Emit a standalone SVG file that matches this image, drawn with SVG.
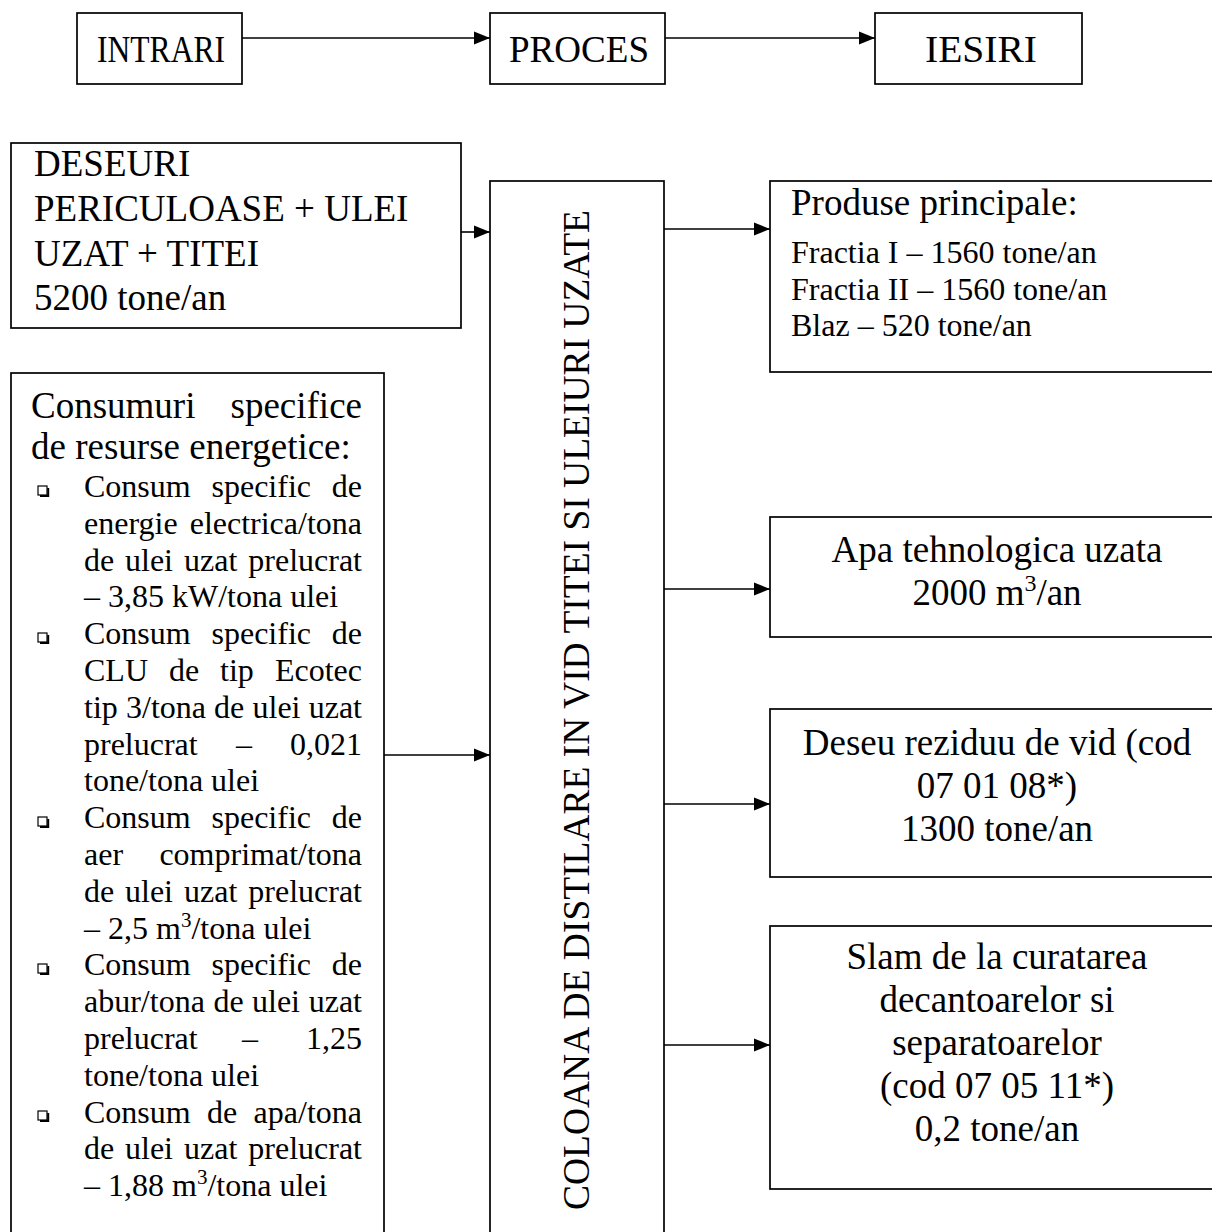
<svg xmlns="http://www.w3.org/2000/svg" width="1212" height="1232" viewBox="0 0 1212 1232">
<style>
  text { font-family: "Liberation Serif", "Times New Roman", serif; fill: #000; }
  .box { fill: #fff; stroke: #000; stroke-width: 1.7; }
  .big { font-size: 37px; }
  .sm { font-size: 32px; }
  .mid { text-anchor: middle; }
  .end { text-anchor: end; }
  .conn { stroke: #000; stroke-width: 1.6; fill: none; marker-end: url(#arr); }
</style>
<defs>
  <marker id="arr" markerUnits="userSpaceOnUse" markerWidth="17" markerHeight="14" refX="16" refY="7" orient="auto">
    <path d="M0,0.5 L16,7 L0,13.5 z" fill="#000"/>
  </marker>
  <g id="bullet">
    <rect x="0" y="0" width="9" height="9" fill="#fff" stroke="#000" stroke-width="1.2"/>
    <path d="M2,10 H10.2 V2" fill="none" stroke="#000" stroke-width="2"/>
  </g>
</defs>

<g id="connectors">
  <line class="conn" x1="239" y1="38" x2="490" y2="38"/>
  <line class="conn" x1="662" y1="38" x2="875" y2="38"/>
  <line class="conn" x1="461" y1="232" x2="490" y2="232"/>
  <line class="conn" x1="384" y1="755" x2="490" y2="755"/>
  <line class="conn" x1="664" y1="229" x2="770" y2="229"/>
  <line class="conn" x1="664" y1="589" x2="770" y2="589"/>
  <line class="conn" x1="664" y1="804" x2="770" y2="804"/>
  <line class="conn" x1="664" y1="1045" x2="770" y2="1045"/>
</g>

<g id="intrari">
  <rect class="box" x="77" y="13" width="165" height="71"/>
  <text class="big mid" x="161" y="62" textLength="128" lengthAdjust="spacingAndGlyphs">INTRARI</text>
</g>
<g id="proces">
  <rect class="box" x="490" y="13" width="175" height="71"/>
  <text class="big mid" x="579" y="62" textLength="140" lengthAdjust="spacingAndGlyphs">PROCES</text>
</g>
<g id="iesiri">
  <rect class="box" x="875" y="13" width="207" height="71"/>
  <text class="big mid" x="981" y="62" textLength="112" lengthAdjust="spacingAndGlyphs">IESIRI</text>
</g>

<g id="deseuri">
  <rect class="box" x="11" y="143" width="450" height="185"/>
  <text class="big" x="34" y="176">DESEURI</text>
  <text class="big" x="34" y="221">PERICULOASE + ULEI</text>
  <text class="big" x="34" y="266">UZAT + TITEI</text>
  <text class="big" x="34" y="310">5200 tone/an</text>
</g>

<g id="consumuri">
  <rect class="box" x="11" y="373" width="373" height="880"/>
  <text class="big" x="31" y="418">Consumuri</text>
  <text class="big end" x="362" y="418">specifice</text>
  <text class="big" x="31" y="459">de resurse energetice:</text>

  <use href="#bullet" x="38" y="486"/>
  <text class="sm" y="497"><tspan x="84">Consum</tspan><tspan x="211.5">specific</tspan><tspan x="362" text-anchor="end">de</tspan></text>
  <text class="sm" y="533.8"><tspan x="84">energie</tspan><tspan x="362" text-anchor="end">electrica/tona</tspan></text>
  <text class="sm" y="570.6"><tspan x="84">de</tspan><tspan x="125">ulei</tspan><tspan x="184">uzat</tspan><tspan x="362" text-anchor="end">prelucrat</tspan></text>
  <text class="sm" x="84" y="607.4">– 3,85 kW/tona ulei</text>

  <use href="#bullet" x="38" y="633"/>
  <text class="sm" y="644.2"><tspan x="84">Consum</tspan><tspan x="211.5">specific</tspan><tspan x="362" text-anchor="end">de</tspan></text>
  <text class="sm" y="681"><tspan x="84">CLU</tspan><tspan x="169">de</tspan><tspan x="220">tip</tspan><tspan x="362" text-anchor="end">Ecotec</tspan></text>
  <text class="sm" y="717.8"><tspan x="84">tip</tspan><tspan x="126">3/tona</tspan><tspan x="214">de</tspan><tspan x="252.5">ulei</tspan><tspan x="362" text-anchor="end">uzat</tspan></text>
  <text class="sm" y="754.6"><tspan x="84">prelucrat</tspan><tspan x="236">–</tspan><tspan x="362" text-anchor="end">0,021</tspan></text>
  <text class="sm" x="84" y="791.4">tone/tona ulei</text>

  <use href="#bullet" x="38" y="817"/>
  <text class="sm" y="828.2"><tspan x="84">Consum</tspan><tspan x="211.5">specific</tspan><tspan x="362" text-anchor="end">de</tspan></text>
  <text class="sm" y="865"><tspan x="84">aer</tspan><tspan x="362" text-anchor="end">comprimat/tona</tspan></text>
  <text class="sm" y="901.8"><tspan x="84">de</tspan><tspan x="125">ulei</tspan><tspan x="184">uzat</tspan><tspan x="362" text-anchor="end">prelucrat</tspan></text>
  <text class="sm" x="84" y="938.6">– 2,5 m<tspan dy="-12" font-size="21">3</tspan><tspan dy="12">/tona ulei</tspan></text>

  <use href="#bullet" x="38" y="964"/>
  <text class="sm" y="975.4"><tspan x="84">Consum</tspan><tspan x="211.5">specific</tspan><tspan x="362" text-anchor="end">de</tspan></text>
  <text class="sm" y="1012.2"><tspan x="84">abur/tona</tspan><tspan x="213.4">de</tspan><tspan x="252">ulei</tspan><tspan x="362" text-anchor="end">uzat</tspan></text>
  <text class="sm" y="1049"><tspan x="84">prelucrat</tspan><tspan x="242">–</tspan><tspan x="362" text-anchor="end">1,25</tspan></text>
  <text class="sm" x="84" y="1085.8">tone/tona ulei</text>

  <use href="#bullet" x="38" y="1111"/>
  <text class="sm" y="1122.6"><tspan x="84">Consum</tspan><tspan x="207">de</tspan><tspan x="362" text-anchor="end">apa/tona</tspan></text>
  <text class="sm" y="1159.4"><tspan x="84">de</tspan><tspan x="125">ulei</tspan><tspan x="184">uzat</tspan><tspan x="362" text-anchor="end">prelucrat</tspan></text>
  <text class="sm" x="84" y="1196.2">– 1,88 m<tspan dy="-12" font-size="21">3</tspan><tspan dy="12">/tona ulei</tspan></text>
</g>

<g id="coloana">
  <rect class="box" x="490" y="181" width="174" height="1072"/>
  <text class="big" transform="translate(589,1210) rotate(-90)" x="0" y="0" textLength="1000" lengthAdjust="spacingAndGlyphs">COLOANA DE DISTILARE IN VID TITEI SI ULEIURI UZATE</text>
</g>

<g id="produse">
  <rect class="box" x="770" y="181" width="460" height="191"/>
  <text class="big" x="791" y="215">Produse principale:</text>
  <text class="sm" x="791" y="263">Fractia I – 1560 tone/an</text>
  <text class="sm" x="791" y="299.5">Fractia II – 1560 tone/an</text>
  <text class="sm" x="791" y="336">Blaz – 520 tone/an</text>
</g>

<g id="apa">
  <rect class="box" x="770" y="517" width="460" height="120"/>
  <text class="big mid" x="997" y="562">Apa tehnologica uzata</text>
  <text class="big mid" x="997" y="605">2000 m<tspan dy="-14" font-size="24">3</tspan><tspan dy="14">/an</tspan></text>
</g>

<g id="deseu-reziduu">
  <rect class="box" x="770" y="709" width="460" height="168"/>
  <text class="big mid" x="997" y="755">Deseu reziduu de vid (cod</text>
  <text class="big mid" x="997" y="798">07 01 08*)</text>
  <text class="big mid" x="997" y="841">1300 tone/an</text>
</g>

<g id="slam">
  <rect class="box" x="770" y="926" width="460" height="263"/>
  <text class="big mid" x="997" y="969">Slam de la curatarea</text>
  <text class="big mid" x="997" y="1012">decantoarelor si</text>
  <text class="big mid" x="997" y="1055">separatoarelor</text>
  <text class="big mid" x="997" y="1098">(cod 07 05 11*)</text>
  <text class="big mid" x="997" y="1141">0,2 tone/an</text>
</g>
</svg>
